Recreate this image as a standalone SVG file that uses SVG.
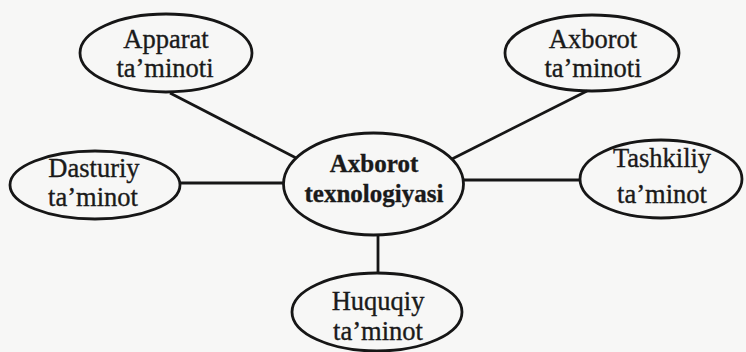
<svg xmlns="http://www.w3.org/2000/svg" width="746" height="352" viewBox="0 0 746 352">
  <style>
    .node { fill: none; stroke: #161616; stroke-width: 2.8; }
    .link { stroke: #161616; stroke-width: 2.8; fill: none; }
    .label { font-family: "Liberation Serif", "Times New Roman", serif; font-size: 26.5px; fill: #1a1a1a; stroke: #1a1a1a; stroke-width: 0.35; text-anchor: middle; }
    .hub { font-weight: bold; font-size: 25px; }
  </style>
  <rect width="746" height="352" fill="#f7f7f6"/>

  <!-- connectors from the hub to each surrounding node -->
  <g id="connectors">
    <line class="link" x1="170" y1="93" x2="300" y2="160"/>
    <line class="link" x1="587" y1="91" x2="450" y2="160"/>
    <line class="link" x1="180" y1="183" x2="284" y2="183"/>
    <line class="link" x1="463" y1="180" x2="581" y2="180"/>
    <line class="link" x1="378" y1="235" x2="378" y2="274"/>
  </g>

  <g id="hub">
    <ellipse class="node" cx="373.5" cy="184" rx="90" ry="51" style="fill:#f7f7f6"/>
    <text class="label hub" x="374" y="172">Axborot</text>
    <text class="label hub" x="374" y="202">texnologiyasi</text>
  </g>

  <g id="apparat">
    <ellipse class="node" cx="166" cy="53" rx="86" ry="39"/>
    <text class="label" x="166" y="48">Apparat</text>
    <text class="label" x="165" y="77">ta’minoti</text>
  </g>

  <g id="axborot">
    <ellipse class="node" cx="592" cy="53" rx="87" ry="38"/>
    <text class="label" x="593" y="48">Axborot</text>
    <text class="label" x="593" y="77">ta’minoti</text>
  </g>

  <g id="dasturiy">
    <ellipse class="node" cx="95" cy="185" rx="85" ry="34"/>
    <text class="label" x="94" y="177">Dasturiy</text>
    <text class="label" x="93" y="206">ta’minot</text>
  </g>

  <g id="tashkiliy">
    <ellipse class="node" cx="661" cy="179" rx="81" ry="39"/>
    <text class="label" x="662" y="167">Tashkiliy</text>
    <text class="label" x="662" y="203">ta’minot</text>
  </g>

  <g id="huquqiy">
    <ellipse class="node" cx="377" cy="312" rx="85" ry="39"/>
    <text class="label" x="378" y="310">Huquqiy</text>
    <text class="label" x="378" y="340">ta’minot</text>
  </g>
</svg>
